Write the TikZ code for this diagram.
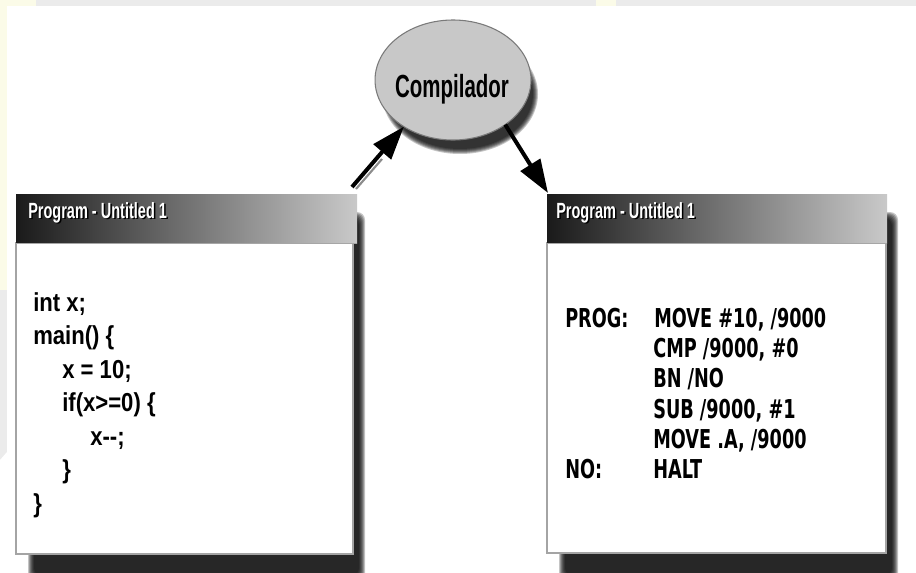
\documentclass[tikz,border=0pt]{standalone}
\usepackage{fontspec}
\usetikzlibrary{arrows.meta,shapes.geometric}
\newfontfamily\codefont{Liberation Sans}[FakeStretch=0.85]
\newfontfamily\compfont{Liberation Sans}[FakeStretch=0.64]
\newfontfamily\asmfont{DejaVu Sans}[FakeStretch=0.68]
\newfontfamily\titlefont{Liberation Sans}[FakeStretch=0.66]
\definecolor{bggray}{HTML}{EBEBEB}
\definecolor{bgyellow}{HTML}{FBFBE8}
\definecolor{bardark}{HTML}{1A1A1A}
\definecolor{barlight}{HTML}{C9C9C9}
\definecolor{bodyedge}{HTML}{A4A4A4}
\definecolor{ellfill}{HTML}{C8C8C8}
\definecolor{elledge}{HTML}{7A7A7A}
\tikzset{
  codeline/.style={anchor=base west, inner sep=0pt, font=\codefont\bfseries\fontsize{19.5pt}{22pt}\selectfont},
  asmline/.style={anchor=base west, inner sep=0pt, font=\asmfont\bfseries\fontsize{19.5pt}{22pt}\selectfont},
  titletext/.style={anchor=base west, inner sep=0pt, font=\titlefont\bfseries\fontsize{16.5pt}{19pt}\selectfont},
  compnode/.style={ellipse, minimum width=117pt, minimum height=90pt, inner sep=0pt},
  complabel/.style={anchor=base, inner sep=0pt, font=\compfont\bfseries\fontsize{24pt}{26pt}\selectfont},
  flow/.style={line width=3pt, -{Triangle[length=25pt, width=17pt]}},
  flowshadow/.style={line width=1.6pt, draw=black!45},
  softshadow/.style={fill=black, opacity=0.23},
}
\begin{document}
\begin{tikzpicture}[x=0.75pt, y=-0.75pt]
  \useasboundingbox (0,0) rectangle (916,572);
  \clip (0,0) rectangle (916,572);

  % page background with its light edge strips
  \fill[bggray] (0,0) rectangle (916,572);
  \fill[bgyellow] (0,0) rectangle (36,6);
  \fill[bgyellow] (0,0) rectangle (7,290);
  \fill[bgyellow] (596,0) rectangle (616,6);
  \fill[white] (0,460) -- (7,452) -- (7,572) -- (0,572) -- cycle;
  \fill[white] (7,6) rectangle (916,572);

  % soft drop shadows of the two windows
  \foreach \k in {0,...,6} {
    \fill[softshadow, rounded corners=6pt] ({28+\k},{212+\k}) rectangle ({365-\k},{582-\k});
    \fill[softshadow, rounded corners=6pt] ({559+\k},{212+\k}) rectangle ({898-\k},{582-\k});
  }

  % left window: title bar and body
  \fill[white, draw=bodyedge, line width=1.2pt] (16,243) rectangle (353,554);
  \shade[left color=bardark, right color=barlight] (16,194) rectangle (357,243);
  \draw[black!35, line width=0.6pt] (16,243) -- (357,243);
  \node[titletext, text=black] (ltitleshadow) at (29.5,219.5) {Program - Untitled 1};
  \node[titletext, text=white] (ltitle) at (28,218) {Program - Untitled 1};

  % right window: title bar and body
  \fill[white, draw=bodyedge, line width=1.2pt] (547,243) rectangle (886,553);
  \shade[left color=bardark, right color=barlight] (547,194) rectangle (887,243);
  \draw[black!35, line width=0.6pt] (547,243) -- (887,243);
  \node[titletext, text=black] (rtitleshadow) at (557.5,219.5) {Program - Untitled 1};
  \node[titletext, text=white] (rtitle) at (556,218) {Program - Untitled 1};

  % source program
  \node[codeline] (c1) at (33,311)   {int x;};
  \node[codeline] (c2) at (33,344.5) {main() \{};
  \node[codeline] (c3) at (62,378)   {x = 10;};
  \node[codeline] (c4) at (62,411.5) {if(x>=0) \{};
  \node[codeline] (c5) at (90,445)   {x--;};
  \node[codeline] (c6) at (62,478.5) {\}};
  \node[codeline] (c7) at (33,512)   {\}};

  % translated assembly program
  \node[asmline] (a0) at (565,327) {PROG:};
  \node[asmline] (a1) at (654,327) {MOVE \#10, /9000};
  \node[asmline] (a2) at (653,357) {CMP /9000, \#0};
  \node[asmline] (a3) at (653,387) {BN /NO};
  \node[asmline] (a4) at (653,418) {SUB /9000, \#1};
  \node[asmline] (a5) at (653,448) {MOVE .A, /9000};
  \node[asmline] (a6) at (565,478) {NO:};
  \node[asmline] (a7) at (653,478) {HALT};

  % compiler bubble: shadow, body and label
  \foreach \k in {0,...,5} {
    \fill[softshadow] plot[domain=0:360, samples=90, smooth cycle]
      ({460+(78-\k)*cos(\x)}, {94+(60-\k)*sin(\x)});
  }
  \node[compnode] (comp) at (453,80) {};
  \fill[ellfill, draw=elledge, line width=0.8pt] plot[domain=0:360, samples=90, smooth cycle]
    ({453+78*cos(\x)}, {80+60*sin(\x)});
  \node[complabel] (complabel) at (452,97) {Compilador};

  % connectors
  \coordinate (compin)  at ({453+78*cos(129)}, {80+60*sin(129)});
  \coordinate (compout) at ({453+78*cos(48)},  {80+60*sin(48)});
  \coordinate (la) at (352,187);
  \coordinate (ra) at (548,193);
  \coordinate (las) at (356,189);
  \coordinate (lae) at (382,159);
  \draw[flowshadow] (las) -- (lae);
  \draw[flow] (la) -- (compin);
  \draw[flow] (compout) -- (ra);
\end{tikzpicture}
\end{document}
